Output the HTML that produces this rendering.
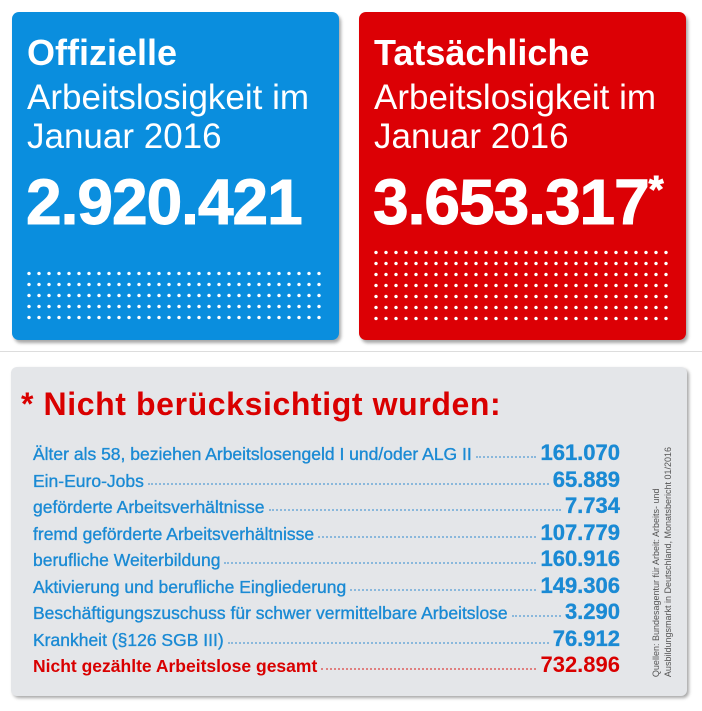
<!DOCTYPE html>
<html><head><meta charset="utf-8"><style>
body{margin:0;width:702px;height:711px;background:#fff;position:relative;overflow:hidden;font-family:"Liberation Sans",sans-serif}
.box{position:absolute;border-radius:7px;box-shadow:2px 3px 3px rgba(0,0,0,.35);color:#fff}
.t1{position:absolute;left:15px;top:21px;font-size:36px;font-weight:bold;line-height:40px}
.t2{position:absolute;left:15px;top:66px;font-size:35px;line-height:39px}
.num{position:absolute;left:14px;top:153px;font-size:64px;font-weight:bold;letter-spacing:-1px;-webkit-text-stroke:1px #fff}
.dots{position:absolute;background-image:radial-gradient(circle,#fff 1.6px,transparent 1.9px);background-size:10px 11px}
.sep{position:absolute;left:0;top:351px;width:702px;height:1px;background:#ddd}
.grey{position:absolute;left:11px;top:367px;width:676px;height:329px;background:#e4e6e9;border-radius:6px;box-shadow:2px 2px 3px rgba(0,0,0,.35)}
.hd{position:absolute;left:21px;top:386px;font-size:32px;font-weight:bold;color:#d90000;letter-spacing:0.6px}
.row{position:absolute;left:33px;width:587px;height:26px;display:flex;align-items:baseline;color:#1a8ad4;font-size:17.5px;-webkit-text-stroke:0.35px #1a8ad4}
.row .l{white-space:nowrap}
.row .d{flex:1;border-bottom:2px dotted #8ab8dc;margin:0 4px;height:0;position:relative;top:-2px;-webkit-text-stroke:0}
.row .v{font-weight:bold;font-size:22px}
.red{color:#d90000;font-weight:bold;-webkit-text-stroke:0}
.src{position:absolute;left:662px;top:562px;transform:translate(-50%,-50%) rotate(-90deg);font-size:9px;color:#555;white-space:nowrap;line-height:12px}
</style></head><body>
<div class="box" style="left:12px;top:12px;width:327px;height:328px;background:#0a8ede">
<div class="t1">Offizielle</div>
<div class="t2">Arbeitslosigkeit im<br>Januar 2016</div>
<div class="num">2.920.421</div>
<div class="dots" style="left:12px;top:256px;width:300px;height:55px"></div>
</div>
<div class="box" style="left:359px;top:12px;width:327px;height:328px;background:#dc0005">
<div class="t1">Tatsächliche</div>
<div class="t2">Arbeitslosigkeit im<br>Januar 2016</div>
<div class="num">3.653.317<span style="font-size:38px;vertical-align:22px">*</span></div>
<div class="dots" style="left:12px;top:235px;width:300px;height:77px"></div>
</div>
<div class="sep"></div>
<div class="grey"></div>
<div class="hd">* Nicht berücksichtigt wurden:</div>
<div class="row" style="top:440px"><span class="l">Älter als 58, beziehen Arbeitslosengeld I und/oder ALG II</span><span class="d"></span><span class="v">161.070</span></div>
<div class="row" style="top:466.5px"><span class="l">Ein-Euro-Jobs</span><span class="d"></span><span class="v">65.889</span></div>
<div class="row" style="top:493px"><span class="l">geförderte Arbeitsverhältnisse</span><span class="d"></span><span class="v">7.734</span></div>
<div class="row" style="top:519.5px"><span class="l">fremd geförderte Arbeitsverhältnisse</span><span class="d"></span><span class="v">107.779</span></div>
<div class="row" style="top:546px"><span class="l">berufliche Weiterbildung</span><span class="d"></span><span class="v">160.916</span></div>
<div class="row" style="top:572.5px"><span class="l">Aktivierung und berufliche Eingliederung</span><span class="d"></span><span class="v">149.306</span></div>
<div class="row" style="top:599px"><span class="l">Beschäftigungszuschuss für schwer vermittelbare Arbeitslose</span><span class="d"></span><span class="v">3.290</span></div>
<div class="row" style="top:625.5px"><span class="l">Krankheit (§126 SGB III)</span><span class="d"></span><span class="v">76.912</span></div>
<div class="row" style="top:652px"><span class="l red">Nicht gezählte Arbeitslose gesamt</span><span class="d" style="border-color:#e08080"></span><span class="v red">732.896</span></div>
<div class="src">Quellen: Bundesagentur für Arbeit: Arbeits- und<br>Ausbildungsmarkt in Deutschland, Monatsbericht 01/2016</div>
</body></html>
